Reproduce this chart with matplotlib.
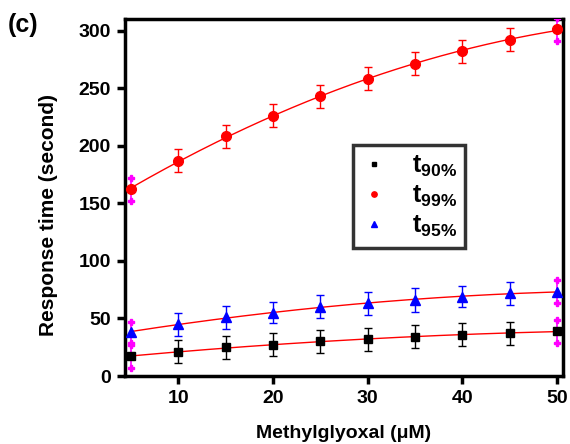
import numpy as np
import matplotlib
matplotlib.use("Agg")
import matplotlib.pyplot as plt

plt.rcParams['font.family'] = ['Liberation Sans', 'DejaVu Sans']
plt.rcParams['font.weight'] = 'bold'
plt.rcParams['mathtext.fontset'] = 'custom'
plt.rcParams['mathtext.rm'] = 'Liberation Sans:bold'
plt.rcParams['mathtext.it'] = 'Liberation Sans:bold'

# data
conc = [5, 10, 15, 20, 25, 30, 35, 40, 45, 50]
t90 = [17, 21, 25, 27, 30, 32, 34, 36, 37, 39]
t90_err = [10, 10, 10, 10, 10, 10, 10, 10, 10, 10]
t99 = [162, 187, 208, 226, 243, 258, 271, 282, 292, 301]
t99_err = [10, 10, 10, 10, 10, 10, 10, 10, 10, 10]
t95 = [38, 45, 51, 55, 60, 63, 66, 69, 72, 73]
t95_err = [9, 10, 10, 9, 10, 10, 10, 9, 10, 10]

fig = plt.figure(figsize=(5.7, 4.44), dpi=100)
ax = fig.add_axes([125/570, 1 - 376/444, (563-125)/570, (376-19)/444])

x = np.array(conc)
xf = np.linspace(5, 50, 200)
series = [
    (t90, t90_err, 'black', 's', 6, r'$\mathregular{t_{90\%}}$'),
    (t99, t99_err, 'red', 'o', 7, r'$\mathregular{t_{99\%}}$'),
    (t95, t95_err, 'blue', '^', 7, r'$\mathregular{t_{95\%}}$'),
]
handles = []
for y, e, c, m, ms, lab in series:
    y = np.array(y)
    e = np.array(e)
    # fitted curve
    p = np.polyfit(x, y, 2)
    ax.plot(xf, np.polyval(p, xf), color='red', lw=1.0, zorder=2)
    ax.errorbar(x[1:-1], y[1:-1], yerr=e[1:-1], fmt='none', ecolor=c, elinewidth=1,
                capsize=3, capthick=1, zorder=3)
    # end points: magenta error bars
    ax.errorbar(x[[0, -1]], y[[0, -1]], yerr=e[[0, -1]], fmt='none', ecolor='magenta',
                elinewidth=1.2, capsize=2, capthick=1, zorder=3)
    ax.plot(np.repeat(x[[0, -1]], 2), np.concatenate([y[[0, -1]] - e[[0, -1]],
            y[[0, -1]] + e[[0, -1]]])[[0, 2, 1, 3]], linestyle='none', marker='P',
            color='magenta', markersize=4, zorder=3)
    h, = ax.plot(x, y, linestyle='none', marker=m, color=c, markersize=ms,
                 zorder=4, label=lab)
    handles.append(h)

ax.set_xlim(4.37, 50.63)
ax.set_ylim(0, 310)
ax.set_xticks([10, 20, 30, 40, 50])
ax.set_yticks([0, 50, 100, 150, 200, 250, 300])
ax.tick_params(labelsize=14, width=2.5, length=6, direction='out', pad=4)
for s in ax.spines.values():
    s.set_linewidth(2.5)
ax.set_xlabel('Methylglyoxal (\u03bcM)', fontsize=14, fontweight='bold', labelpad=13)
ax.set_ylabel('Response time (second)', fontsize=15, fontweight='bold')
ax.yaxis.set_label_coords(-0.153, 0.45)

leg = ax.legend(handles=handles, loc='upper left', bbox_to_anchor=(0.52, 0.647),
                borderaxespad=0, fontsize=18, frameon=True, fancybox=False,
                edgecolor='black', handlelength=1.0, markerscale=0.55, borderpad=0.35,
                labelspacing=0.2, handletextpad=1.0)
leg.get_frame().set_linewidth(2.5)

fig.text(8/570, 1 - 25/444, '(c)', fontsize=18, fontweight='bold', va='center', ha='left')

fig.savefig('out.png', dpi=100)
